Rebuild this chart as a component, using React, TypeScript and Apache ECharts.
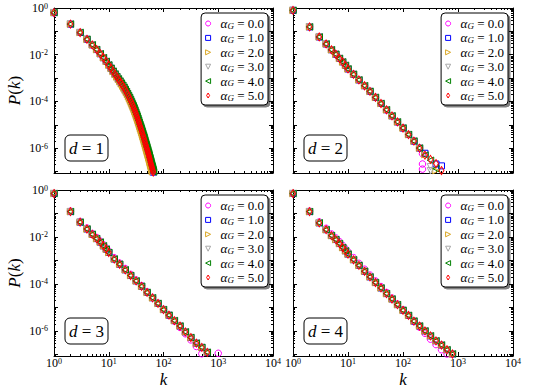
import React, { useEffect, useRef } from 'react';
import * as echarts from 'echarts';

const W = 540;
const H = 392;
const FONT = "'Liberation Serif', 'DejaVu Serif', serif";

// ---- legend / series identity ----
const ALPHA_G = ['0.0', '1.0', '2.0', '3.0', '4.0', '5.0'];
const COLORS = ['#ff00ff', '#0000ff', '#daa520', '#a8a8a8', '#008000', '#ff0000'];
const SYMBOLS = ['circle', 'rect', 'path://M0,0L10,5L0,10Z', 'path://M0,0L10,0L5,10Z', 'path://M10,0L0,5L10,10Z', 'diamond'];
const SYMBOL_SIZES: any[] = [6.5, 6, 6.5, 6.5, 6.5, [5, 8]];
const LEGEND_ICONS = ['circle', 'rect', 'path://M0,0L10,5L0,10Z', 'path://M0,0L10,0L5,10Z', 'path://M10,0L0,5L10,10Z', 'path://M3,0L6,5L3,10L0,5Z'];
const D_LABELS = ['1', '2', '3', '4'];

// ---- axes ----
const X_MIN = 1;
const X_MAX = 10000;
const Y_MIN = 8.6e-8;
const Y_MAX = 1;
const X_MAJOR = [1, 10, 100, 1000, 10000];
const Y_LABELS = [1, 1e-2, 1e-4, 1e-6];
const Y_DECADES = [1, 1e-1, 1e-2, 1e-3, 1e-4, 1e-5, 1e-6, 1e-7];
const SUBS = [2, 3, 4, 5, 6, 7, 8, 9];

// ---- data: k values ----
const K1 = [1, 2, 3, 4, 5, 6, 7, 8, 9, 10, 11, 12, 13, 14, 15, 16, 17, 18, 19, 20,
  21, 22, 23, 24, 25, 26, 27, 28, 29, 30, 31, 32, 33, 34, 35, 36, 37, 38, 39, 40,
  41, 42, 43, 44, 45, 46, 47, 48, 49, 50, 51, 52, 53, 54, 55, 56, 57, 58, 59, 60,
  61, 62, 63, 64, 65, 66, 67, 68];
const KB = [1, 2, 3, 4, 5, 6, 7, 8, 9, 10, 12.6, 15.8, 20, 25.1, 31.6, 39.8, 50.1, 63.1, 79.4, 100,
  126, 158, 200, 251, 316, 398, 501, 631, 794, 1000];

// ---- data: log10 P(k), d = 1 ----
const D1_MID = [-0.2, -0.69, -1.05, -1.34, -1.58, -1.78, -1.96, -2.13, -2.29, -2.44,
  -2.58, -2.71, -2.83, -2.94, -3.04, -3.14, -3.23, -3.32, -3.41, -3.5,
  -3.59, -3.68, -3.77, -3.86, -3.95, -4.04, -4.13, -4.22, -4.31, -4.4,
  -4.49, -4.58, -4.67, -4.76, -4.85, -4.94, -5.03, -5.11, -5.19, -5.27,
  -5.35, -5.43, -5.51, -5.59, -5.67, -5.75, -5.83, -5.9, -5.97, -6.04,
  -6.11, -6.18, -6.25, -6.32, -6.39, -6.46, -6.53, -6.6, -6.67, -6.73,
  -6.79, -6.85, -6.91, -6.97, -7.03, -7.09];
const D1_HI = [-0.2, -0.69, -1.05, -1.34, -1.58, -1.78, -1.96, -2.13, -2.29, -2.44,
  -2.58, -2.71, -2.83, -2.94, -3.04, -3.13, -3.22, -3.31, -3.4, -3.49,
  -3.58, -3.67, -3.76, -3.84, -3.93, -4.02, -4.11, -4.19, -4.28, -4.37,
  -4.46, -4.55, -4.63, -4.72, -4.81, -4.9, -4.98, -5.06, -5.14, -5.22,
  -5.3, -5.38, -5.46, -5.53, -5.61, -5.69, -5.77, -5.84, -5.91, -5.98,
  -6.05, -6.12, -6.19, -6.25, -6.32, -6.39, -6.46, -6.53, -6.59, -6.66,
  -6.72, -6.78, -6.84, -6.9, -6.96, -7.02, -7.08];
const D1_LO = [-0.2, -0.69, -1.05, -1.34, -1.58, -1.78, -1.96, -2.13, -2.29, -2.44,
  -2.58, -2.72, -2.84, -2.95, -3.05, -3.15, -3.25, -3.34, -3.43, -3.52,
  -3.61, -3.7, -3.8, -3.89, -3.98, -4.07, -4.16, -4.25, -4.34, -4.44,
  -4.53, -4.62, -4.71, -4.8, -4.89, -4.98, -5.07, -5.16, -5.24, -5.32,
  -5.41, -5.49, -5.57, -5.65, -5.73, -5.81, -5.89, -5.97, -6.04, -6.12,
  -6.19, -6.26, -6.33, -6.41, -6.48, -6.55, -6.62, -6.69, -6.76, -6.82,
  -6.89, -6.95, -7.01, -7.07, -7.13];

// ---- d = 2 (log-binned k) ----
const D2_BASE = [-0.1, -0.81, -1.24, -1.54, -1.79, -1.98, -2.16, -2.31, -2.46, -2.61,
  -2.84, -3.08, -3.33, -3.57, -3.83, -4.09, -4.36, -4.62, -4.88, -5.14,
  -5.42, -5.7, -6.0];
const D2_TAIL_K = [[226, 226, 226], [251, 398, 501], [251, 398], [316, 316], [251, 316, 398], [251, 316, 398, 501]];
const D2_TAIL_LOGP = [[-6.24, -6.68, -6.9], [-6.22, -6.68, -6.76], [-6.28, -6.96], [-6.8, -6.97], [-6.3, -6.52, -6.88], [-6.3, -6.48, -6.66, -6.96]];

// ---- d = 3 ----
const D3_BASE = [-0.15, -0.92, -1.37, -1.66, -1.89, -2.07, -2.22, -2.38, -2.52, -2.66,
  -2.94, -3.16, -3.4, -3.64, -3.87, -4.1, -4.36, -4.59, -4.83, -5.09,
  -5.33, -5.56, -5.79, -6.04, -6.28, -6.52, -6.7, -6.91];
const D3_A0 = [-0.15, -0.9, -1.34, -1.62, -1.85, -2.02, -2.18, -2.33, -2.47, -2.6,
  -2.88, -3.11, -3.34, -3.59, -3.83, -4.07, -4.33, -4.57, -4.82, -5.08,
  -5.33, -5.58, -5.85, -6.12, -6.38, -6.66, -6.97, null, null, -6.95];

// ---- d = 4 ----
const D4_BASE = [-0.15, -0.92, -1.4, -1.69, -1.94, -2.11, -2.28, -2.45, -2.59, -2.73,
  -2.97, -3.21, -3.46, -3.7, -3.94, -4.17, -4.41, -4.64, -4.88, -5.12,
  -5.34, -5.58, -5.79, -6.0, -6.21, -6.42, -6.6, -6.8, -6.98];
const D4_A0 = [-0.15, -0.9, -1.36, -1.63, -1.87, -2.04, -2.2, -2.36, -2.5, -2.63,
  -2.88, -3.12, -3.37, -3.62, -3.87, -4.11, -4.36, -4.6, -4.85, -5.1,
  -5.34, -5.6, -5.84, -6.1, -6.35, -6.58, -6.8, -6.98];

// ---- layout ----
const GRIDS = [
  { left: 54, top: 8, width: 219, height: 165 },
  { left: 293, top: 8, width: 220, height: 165 },
  { left: 54, top: 190, width: 219, height: 166 },
  { left: 293, top: 190, width: 220, height: 166 },
];

const seriesName = (i: number) => `aG=${ALPHA_G[i]}`;

function pairs(ks: number[], logp: (number | null)[]) {
  const out: number[][] = [];
  for (let i = 0; i < logp.length && i < ks.length; i++) {
    const v = logp[i];
    if (v === null || v === undefined) continue;
    out.push([ks[i], Math.pow(10, v)]);
  }
  return out;
}

function panelData(p: number, s: number): number[][] {
  if (p === 0) {
    const arr = [D1_LO, D1_MID, D1_LO, D1_MID, D1_HI, D1_MID][s];
    return pairs(K1, arr);
  }
  if (p === 1) {
    return pairs(KB, D2_BASE).concat(pairs(D2_TAIL_K[s], D2_TAIL_LOGP[s]));
  }
  if (p === 2) return pairs(KB, s === 0 ? D3_A0 : D3_BASE);
  return pairs(KB, s === 0 ? D4_A0 : D4_BASE);
}

const TICK_RICH = {
  b: { fontFamily: FONT, fontSize: 12, lineHeight: 12, padding: [3, 0, 0, 0], verticalAlign: 'bottom', color: '#000' },
  s: { fontFamily: FONT, fontSize: 8, lineHeight: 8, verticalAlign: 'top', color: '#000' },
};
const powLabel = (v: number) => {
  const e = Math.round(Math.log10(v));
  return `{b|10}{s|${e}}`;
};
const LEG_RICH = {
  i: { fontFamily: FONT, fontStyle: 'italic', fontSize: 13, lineHeight: 13, verticalAlign: 'top', color: '#000' },
  s: { fontFamily: FONT, fontStyle: 'italic', fontSize: 9, lineHeight: 9, padding: [5, 0, 0, 0], verticalAlign: 'bottom', color: '#000' },
  r: { fontFamily: FONT, fontSize: 13, lineHeight: 13, verticalAlign: 'top', color: '#000' },
};
const NAME_RICH = {
  i: { fontFamily: FONT, fontStyle: 'italic', fontSize: 17, color: '#000' },
  r: { fontFamily: FONT, fontSize: 17, color: '#000' },
};

function buildOption() {
  const xMinor: number[] = [];
  [1, 10, 100, 1000].forEach((d) => SUBS.forEach((m) => xMinor.push(d * m)));
  const yMinor: number[] = [];
  [1e-1, 1e-2, 1e-3, 1e-4, 1e-5, 1e-6, 1e-7, 1e-8].forEach((d) => SUBS.forEach((m) => {
    const v = d * m;
    if (v > Y_MIN && v < Y_MAX) yMinor.push(v);
  }));

  const axLine = { show: true, onZero: false, lineStyle: { color: '#000', width: 1 } };
  const xAxis: any[] = [];
  const yAxis: any[] = [];
  GRIDS.forEach((g, gi) => {
    const showX = gi >= 2;
    const showY = gi % 2 === 0;
    const xc = { type: 'log', logBase: 10, min: X_MIN, max: X_MAX, gridIndex: gi, splitLine: { show: false }, axisLine: axLine };
    xAxis.push({
      ...xc, position: 'bottom',
      axisTick: { show: true, inside: true, length: 4, customValues: X_MAJOR, lineStyle: { color: '#000' } },
      axisLabel: { show: showX, customValues: X_MAJOR, formatter: powLabel, rich: TICK_RICH, margin: 1, showMinLabel: true, showMaxLabel: true, hideOverlap: false },
      name: showX ? '{i|k}' : '', nameLocation: 'middle', nameGap: 15, nameTextStyle: { rich: NAME_RICH },
    });
    xAxis.push({ ...xc, position: 'bottom', axisLine: { show: false }, axisTick: { show: true, inside: true, length: 2, customValues: xMinor, lineStyle: { color: '#000' } }, axisLabel: { show: false } });
    xAxis.push({ ...xc, position: 'top', axisTick: { show: true, inside: true, length: 4, customValues: X_MAJOR, lineStyle: { color: '#000' } }, axisLabel: { show: false } });
    xAxis.push({ ...xc, position: 'top', axisLine: { show: false }, axisTick: { show: true, inside: true, length: 2, customValues: xMinor, lineStyle: { color: '#000' } }, axisLabel: { show: false } });

    const yc = { type: 'log', logBase: 10, min: Y_MIN, max: Y_MAX, gridIndex: gi, splitLine: { show: false }, axisLine: axLine };
    yAxis.push({
      ...yc, position: 'left',
      axisTick: { show: true, inside: true, length: 4, customValues: Y_DECADES, lineStyle: { color: '#000' } },
      axisLabel: { show: showY, customValues: Y_LABELS, formatter: powLabel, rich: TICK_RICH, margin: 6, showMinLabel: true, showMaxLabel: true, hideOverlap: false },
      name: showY ? '{i|P}{r|(}{i|k}{r|)}' : '', nameLocation: 'middle', nameGap: 31, nameRotate: 90, nameTextStyle: { rich: NAME_RICH },
    });
    yAxis.push({ ...yc, position: 'left', axisLine: { show: false }, axisTick: { show: true, inside: true, length: 2, customValues: yMinor, lineStyle: { color: '#000' } }, axisLabel: { show: false } });
    yAxis.push({ ...yc, position: 'right', axisTick: { show: true, inside: true, length: 4, customValues: Y_DECADES, lineStyle: { color: '#000' } }, axisLabel: { show: false } });
    yAxis.push({ ...yc, position: 'right', axisLine: { show: false }, axisTick: { show: true, inside: true, length: 2, customValues: yMinor, lineStyle: { color: '#000' } }, axisLabel: { show: false } });
  });

  const series: any[] = [];
  GRIDS.forEach((g, gi) => {
    ALPHA_G.forEach((a, s) => {
      series.push({
        type: 'scatter',
        name: seriesName(s),
        xAxisIndex: gi * 4,
        yAxisIndex: gi * 4,
        data: panelData(gi, s),
        symbol: SYMBOLS[s],
        symbolSize: SYMBOL_SIZES[s],
        itemStyle: { color: 'rgba(0,0,0,0)', borderColor: COLORS[s], borderWidth: 1, opacity: 1 },
        emphasis: { disabled: true },
        silent: true,
        clip: true,
      });
    });
  });

  const legend = GRIDS.map((g) => ({
    orient: 'vertical',
    align: 'left',
    right: W - (g.left + g.width) + 5,
    top: g.top + 5,
    itemWidth: 5,
    itemHeight: 5,
    itemGap: 0.4,
    padding: [3, 4, 3, 4],
    backgroundColor: '#fff',
    borderColor: '#000',
    borderWidth: 1,
    borderRadius: 4,
    shadowColor: 'rgba(0,0,0,0.5)',
    shadowOffsetX: 2,
    shadowOffsetY: 2,
    shadowBlur: 0,
    selectedMode: false,
    data: ALPHA_G.map((a, i) => ({
      name: seriesName(i),
      icon: LEGEND_ICONS[i],
      itemStyle: { color: 'rgba(0,0,0,0)', borderColor: COLORS[i], borderWidth: 1 },
    })),
    formatter: (name: string) => {
      const idx = ALPHA_G.findIndex((a, i) => seriesName(i) === name);
      return `{i|α}{s|G}{r| = ${ALPHA_G[idx]}}`;
    },
    textStyle: { padding: [0, 0, 0, 5], rich: LEG_RICH },
  }));

  const graphic = GRIDS.map((g, gi) => {
    const bx = g.left + 11;
    const by = g.top + g.height - 38;
    return {
      type: 'group',
      silent: true,
      children: [
        { type: 'rect', shape: { x: bx, y: by, width: 43, height: 26, r: 5 }, style: { fill: '#fff', stroke: '#000', lineWidth: 1 } },
        {
          type: 'text', x: bx + 21.5, y: by + 13,
          style: {
            text: `{i|d}{r| = ${D_LABELS[gi]}}`,
            rich: NAME_RICH,
            align: 'center', verticalAlign: 'middle',
          },
        },
      ],
    };
  });

  return {
    animation: false,
    backgroundColor: '#fff',
    textStyle: { fontFamily: FONT },
    grid: GRIDS.map((g) => ({ ...g, containLabel: false, outerBoundsMode: 'none' })),
    xAxis,
    yAxis,
    series,
    legend,
    graphic,
  };
}

export default function App() {
  const ref = useRef<HTMLDivElement>(null);
  useEffect(() => {
    if (!ref.current) return;
    const chart = echarts.init(ref.current, null, { renderer: 'svg', width: W, height: H });
    chart.setOption(buildOption() as any);
    return () => chart.dispose();
  }, []);
  return <div ref={ref} style={{ position: 'fixed', left: 0, top: 0, width: W, height: H, background: '#fff' }} />;
}
